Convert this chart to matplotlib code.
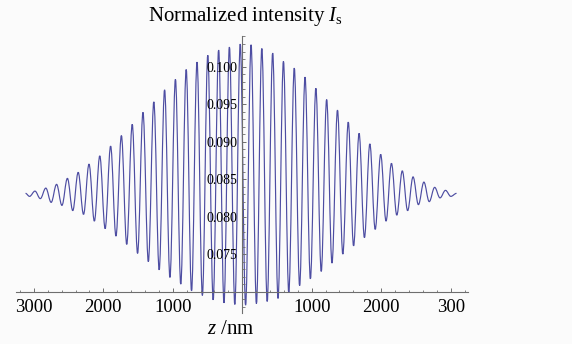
import matplotlib
matplotlib.use("Agg")
import matplotlib.pyplot as plt
from matplotlib.path import Path
from matplotlib.patches import PathPatch
from matplotlib.ticker import FixedLocator, MultipleLocator

plt.rcParams['font.family'] = ['Liberation Serif', 'DejaVu Serif']
plt.rcParams['mathtext.fontset'] = 'custom'
plt.rcParams['mathtext.rm'] = 'Liberation Serif'
plt.rcParams['mathtext.it'] = 'Liberation Serif:italic'

# Alternating extrema of the oscillating curve (start, trough, peak, ..., end)
z_nm = [-3120, -3062, -2984, -2907, -2828, -2751, -2673, -2596, -2517, -2440,
        -2362, -2285, -2206, -2129, -2051, -1974, -1895, -1818, -1740, -1663,
        -1584, -1507, -1429, -1352, -1273, -1196, -1118, -1041, -962, -885,
        -807, -730, -651, -574, -496, -419, -340, -263, -185, -107,
        -29, 48, 127, 204, 282, 359, 438, 515, 593, 670,
        749, 826, 904, 981, 1060, 1137, 1215, 1292, 1371, 1448,
        1526, 1603, 1682, 1759, 1837, 1914, 1993, 2070, 2148, 2225,
        2304, 2381, 2459, 2536, 2615, 2692, 2770, 2847, 2926, 3003, 3085]
intensity = [0.0831, 0.0827, 0.0834, 0.0824, 0.0838, 0.0819, 0.0843, 0.0815, 0.0851, 0.0808,
             0.0859, 0.0803, 0.0870, 0.0794, 0.0881, 0.0784, 0.0894, 0.0774, 0.0908, 0.0763,
             0.0923, 0.0751, 0.0939, 0.0740, 0.0953, 0.0729, 0.0969, 0.0719, 0.0983, 0.0710,
             0.0996, 0.0701, 0.1006, 0.0695, 0.1015, 0.0689, 0.1022, 0.0685, 0.1026, 0.0683,
             0.1030, 0.0682, 0.1029, 0.0684, 0.1024, 0.0687, 0.1018, 0.0691, 0.1007, 0.0699,
             0.0998, 0.0708, 0.0986, 0.0717, 0.0971, 0.0727, 0.0956, 0.0738, 0.0942, 0.0750,
             0.0926, 0.0761, 0.0911, 0.0772, 0.0897, 0.0783, 0.0883, 0.0794, 0.0871, 0.0802,
             0.0861, 0.0808, 0.0853, 0.0816, 0.0846, 0.0820, 0.0839, 0.0825, 0.0835, 0.0827, 0.0831]

x_major_ticks = [-3000, -2000, -1000, 1000, 2000, 3000]
x_tick_labels = ["3000", "2000", "1000", "1000", "2000", "300"]
y_major_ticks = [0.075, 0.080, 0.085, 0.090, 0.095, 0.100]
y_tick_labels = ["0.075", "0.080", "0.085", "0.090", "0.095", "0.100"]

title_text = r"Normalized intensity $I_{\mathrm{s}}$"
xlabel_text = r"$z$ /nm"

W, H = 572, 344
fig = plt.figure(figsize=(W / 100, H / 100), dpi=100, facecolor='#fbfbfb')
ax = fig.add_axes([16.5 / W, 1 - 312.7 / H, (468 - 16.5) / W, (312.7 - 36.5) / H])
ax.set_facecolor('none')
ax.set_xlim(-3250, 3250)
ax.set_ylim(0.0672, 0.1040)

# smooth curve through the extrema, drawn by matplotlib's Bezier path
c = 0.3634
verts = [(z_nm[0], intensity[0])]
codes = [Path.MOVETO]
for i in range(len(z_nm) - 1):
    d = z_nm[i + 1] - z_nm[i]
    verts += [(z_nm[i] + c * d, intensity[i]),
              (z_nm[i + 1] - c * d, intensity[i + 1]),
              (z_nm[i + 1], intensity[i + 1])]
    codes += [Path.CURVE4] * 3
ax.add_patch(PathPatch(Path(verts, codes), fill=False, edgecolor='#4d4da2', lw=0.85,
                       clip_on=False))

axis_color = '#6e6e6e'
for s in ['top', 'right']:
    ax.spines[s].set_visible(False)
ax.spines['left'].set_position(('data', 0))
ax.spines['bottom'].set_position(('data', 0.0700))
for s in ['left', 'bottom']:
    ax.spines[s].set_color(axis_color)
    ax.spines[s].set_linewidth(0.8)

ax.xaxis.set_major_locator(FixedLocator(x_major_ticks))
ax.set_xticklabels(x_tick_labels)
ax.xaxis.set_minor_locator(MultipleLocator(200))
ax.yaxis.set_major_locator(FixedLocator(y_major_ticks))
ax.set_yticklabels(y_tick_labels)
ax.yaxis.set_minor_locator(MultipleLocator(0.001))

ax.tick_params(axis='x', which='major', direction='in', length=3.2, width=0.7,
               color=axis_color, labelsize=13.5, pad=5)
ax.tick_params(axis='x', which='minor', direction='in', length=1.8, width=0.6, color=axis_color)
ax.tick_params(axis='y', which='major', direction='in', length=3.2, width=0.7,
               color=axis_color, labelsize=10, pad=3.5)
ax.tick_params(axis='y', which='minor', direction='in', length=1.8, width=0.6, color=axis_color)

fig.text(245 / W, 1 - 17 / H, title_text, ha='center', va='center', fontsize=15)
fig.text(231 / W, 1 - 330 / H, xlabel_text, ha='center', va='center', fontsize=15)

fig.savefig('out.png', dpi=100, facecolor=fig.get_facecolor())
